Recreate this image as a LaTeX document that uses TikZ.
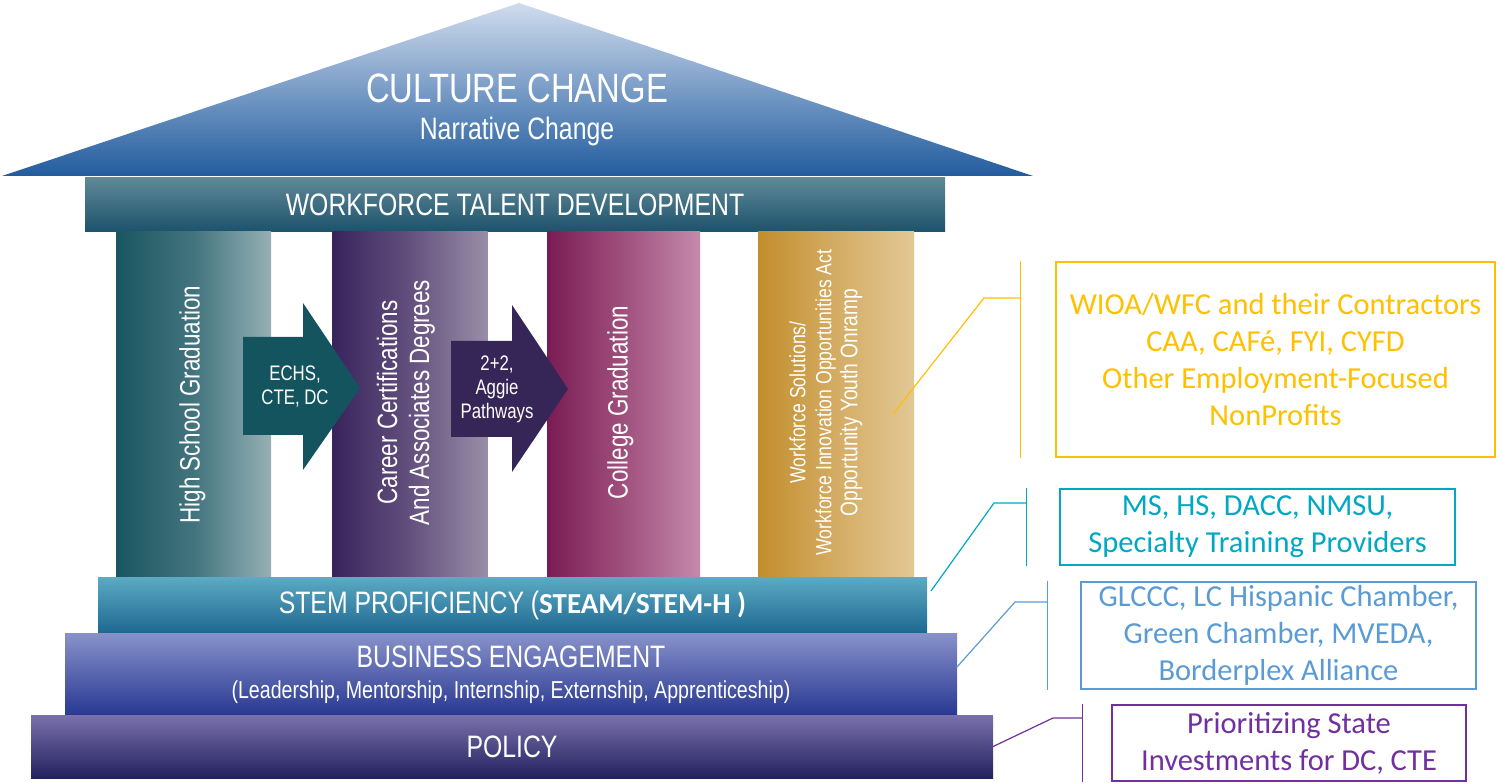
\documentclass[tikz,border=0pt]{standalone}
\usepackage{fontspec}
\setmainfont{Liberation Sans}
\newfontfamily\narrowfont[FakeStretch=0.8]{Liberation Sans}
\newfontfamily\calfont{Carlito}
\usetikzlibrary{positioning}

\definecolor{roofTop}{RGB}{208,220,238}
\definecolor{roofBot}{RGB}{34,92,158}
\definecolor{wtdTop}{RGB}{96,136,150}
\definecolor{wtdBot}{RGB}{28,82,108}
\definecolor{hsLeft}{RGB}{26,86,96}
\definecolor{hsMid}{RGB}{66,116,126}
\definecolor{hsRight}{RGB}{150,176,181}
\definecolor{ccLeft}{RGB}{56,36,92}
\definecolor{ccMid}{RGB}{100,80,125}
\definecolor{ccRight}{RGB}{152,142,168}
\definecolor{cgLeft}{RGB}{122,28,84}
\definecolor{cgMid}{RGB}{160,80,125}
\definecolor{cgRight}{RGB}{196,138,172}
\definecolor{wsLeft}{RGB}{194,142,44}
\definecolor{wsMid}{RGB}{212,172,100}
\definecolor{wsRight}{RGB}{226,200,150}
\definecolor{arrTeal}{RGB}{20,84,94}
\definecolor{arrPurple}{RGB}{54,38,88}
\definecolor{stemTop}{RGB}{92,170,196}
\definecolor{stemBot}{RGB}{30,104,144}
\definecolor{bizTop}{RGB}{136,146,202}
\definecolor{bizBot}{RGB}{40,56,146}
\definecolor{polTop}{RGB}{122,112,172}
\definecolor{polBot}{RGB}{34,34,94}
\definecolor{calGold}{RGB}{255,192,0}
\definecolor{calTeal}{RGB}{0,168,196}
\definecolor{calBlue}{RGB}{91,155,213}
\definecolor{calPurple}{RGB}{112,48,160}

\begin{document}
\begin{tikzpicture}[x=1pt,y=-1pt,
        band/.style={inner sep=0pt,text=white,align=center,
                font=\narrowfont\fontsize{31}{34}\selectfont},
        pillar/.style={minimum width=155pt,minimum height=345pt,inner sep=0pt},
        pillartext/.style={rotate=90,text=white,align=center,
                font=\narrowfont\fontsize{28}{32}\selectfont},
        arrowtext/.style={text=white,align=center,
                font=\narrowfont\fontsize{21}{24}\selectfont},
        callout/.style={draw=#1,line width=1.6pt,text=#1,align=center,inner sep=0pt,
                font=\calfont\fontsize{30.5}{37}\selectfont},
        leader/.style={draw=#1,line width=1.2pt}]

        \useasboundingbox (0,0) rectangle (1497,783);

        % Roof
        \shade[top color=roofTop,bottom color=roofBot]
                (2,176) -- (519,3) -- (1033,176) -- cycle;
        \node[band,font=\narrowfont\fontsize{41}{44}\selectfont] (culture) at (517,88) {CULTURE CHANGE};
        \node[band,font=\narrowfont\fontsize{31}{34}\selectfont] (narrative) at (517,131) {Narrative Change};

        % Workforce band
        \node[band,top color=wtdTop,bottom color=wtdBot,
                minimum width=860pt,minimum height=54pt] (wtd) at (515,205) {WORKFORCE TALENT DEVELOPMENT};

        % Pillars
        \node[pillar,left color=hsLeft,right color=hsRight,middle color=hsMid] (col1) at (193.5,404.5) {};
        \node[pillar,left color=ccLeft,right color=ccRight,middle color=ccMid] (col2) at (410,404.5) {};
        \node[pillar,left color=cgLeft,right color=cgRight,middle color=cgMid,
                minimum width=153pt] (col3) at (623.5,404.5) {};
        \node[pillar,left color=wsLeft,right color=wsRight,middle color=wsMid,
                minimum width=156pt] (col4) at (836,404.5) {};

        \node[pillartext] (hsg) at ([xshift=-1pt]col1.center) {High School Graduation};
        \node[pillartext] (cca) at ([xshift=-4pt,yshift=2pt]col2.center)
                {Career Certifications\\And Associates Degrees};
        \node[pillartext] (cg) at ([xshift=-3pt,yshift=2pt]col3.center) {College Graduation};
        \node[pillartext,font=\narrowfont\fontsize{22}{26}\selectfont] (ws) at ([xshift=-10pt,yshift=2pt]col4.center)
                {Workforce Solutions/\\Workforce Innovation Opportunities Act\\
                 \fontsize{24}{30}\selectfont Opportunity Youth Onramp};

        % Arrows between pillars
        \fill[arrTeal] (243,337) -- (303,337) -- (303,303) -- (360,388)
                -- (303,470) -- (303,435) -- (243,435) -- cycle;
        \node[arrowtext] (echs) at (295,387) {ECHS,\\CTE, DC};
        \fill[arrPurple] (451,341) -- (512,341) -- (512,305) -- (568,389)
                -- (512,472) -- (512,437) -- (451,437) -- cycle;
        \node[arrowtext] (aggie) at (497,389) {2+2,\\Aggie\\Pathways};

        % Foundation bands
        \node[band,top color=stemTop,bottom color=stemBot,
                minimum width=829pt,minimum height=56pt] (stem) at (512.5,605)
                {STEM PROFICIENCY ({\calfont\bfseries\fontsize{29}{34}\selectfont STEAM/STEM-H )}};
        \node[band,top color=bizTop,bottom color=bizBot,
                minimum width=892pt,minimum height=82pt] (biz) at (511,674) {};
        \node[band] (biztitle) at ([yshift=17pt]biz.center) {BUSINESS ENGAGEMENT};
        \node[band,font=\narrowfont\fontsize{24.5}{28}\selectfont] (bizsub) at ([yshift=-18pt]biz.center)
                {(Leadership, Mentorship, Internship, Externship, Apprenticeship)};
        \node[band,top color=polTop,bottom color=polBot,
                minimum width=962pt,minimum height=63pt] (pol) at (512,746.5) {POLICY};

        % Callout boxes
        \node[callout=calGold,minimum width=439pt,minimum height=195pt] (ybox) at (1275.5,359.5)
                {WIOA/WFC and their Contractors\\CAA, CAFé, FYI, CYFD\\Other Employment-Focused\\NonProfits};
        \node[callout=calTeal,minimum width=395pt,minimum height=76pt] (tbox) at (1257.5,527)
                {MS, HS, DACC, NMSU,\\Specialty Training Providers};
        \node[callout=calBlue,minimum width=395pt,minimum height=107pt] (bbox) at (1278.5,635.5)
                {GLCCC, LC Hispanic Chamber,\\Green Chamber, MVEDA,\\Borderplex Alliance};
        \node[callout=calPurple,minimum width=354pt,minimum height=76pt] (pbox) at (1289,743)
                {Prioritizing State\\Investments for DC, CTE};

        % Brackets and leaders
        \coordinate (ypin) at (893,414);
        \coordinate (yknee) at (984,298);
        \draw[leader=calGold] ([xshift=-35pt]ybox.north west) coordinate (ybrk)
                -- ([xshift=-35pt]ybox.south west);
        \draw[leader=calGold] (ypin) -- (yknee) -- (yknee -| ybrk);

        \coordinate (tpin) at (931,591);
        \coordinate (tknee) at (994,503);
        \draw[leader=calTeal] ([xshift=-33pt]tbox.north west) coordinate (tbrk)
                -- ([xshift=-33pt]tbox.south west);
        \draw[leader=calTeal] (tpin) -- (tknee) -- (tknee -| tbrk);

        \coordinate (bpin) at (957,667);
        \coordinate (bknee) at (1015,602);
        \draw[leader=calBlue] ([xshift=-33pt]bbox.north west) coordinate (bbrk)
                -- ([xshift=-33pt]bbox.south west);
        \draw[leader=calBlue] (bpin) -- (bknee) -- (bknee -| bbrk);

        \coordinate (ppin) at (990,748);
        \coordinate (pknee) at (1053,718);
        \draw[leader=calPurple] ([xshift=-29pt]pbox.north west) coordinate (pbrk)
                -- ([xshift=-29pt]pbox.south west);
        \draw[leader=calPurple] (ppin) -- (pknee) -- (pknee -| pbrk);
\end{tikzpicture}
\end{document}
